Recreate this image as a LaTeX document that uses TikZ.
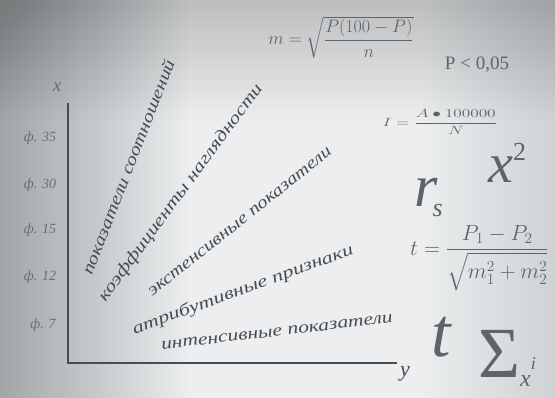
\RequirePackage{fix-cm}
\documentclass[tikz,border=0pt]{standalone}
\usepackage{amsmath}
\usepackage{graphicx}
\usepackage{fontspec}
\setmainfont{Liberation Serif}

\definecolor{bgdark}{RGB}{160,165,168}
\definecolor{bglight}{RGB}{236,238,239}
\definecolor{bgright}{RGB}{206,210,213}
\definecolor{ink}{RGB}{72,77,82}
\definecolor{softink}{RGB}{105,110,114}
\definecolor{formink}{RGB}{95,100,105}

% largeur imposee, hauteur gardee
\newcommand{\fitw}[2]{\resizebox{#1}{\height}{#2}}

\tikzset{
  rowlbl/.style={softink, font=\fontsize{14}{16}\selectfont\itshape},
  slantlbl/.style={ink, font=\fontsize{17}{19}\selectfont\itshape, inner sep=0pt},
  formula/.style={formink, inner sep=0pt},
  axisline/.style={ink, line width=1.6pt}
}

\begin{document}
\begin{tikzpicture}[x=1pt,y=-1pt]

	% Fond
	\useasboundingbox (0,0) rectangle (555,398);
	\shade[left color=bgdark, right color=bglight] (0,0) rectangle (190,398);
	\fill[bglight] (189.5,0) rectangle (420.5,398);
	\shade[left color=bglight, right color=bgright] (420,0) rectangle (555,398);
	\foreach \k in {1,...,24}
		\fill[black, fill opacity=0.008] (0,0) rectangle (555,5*\k);

	% Axes
	\coordinate (O) at (68,363);
	\coordinate (xtop) at (68,103);
	\coordinate (yend) at (397,363);
	\draw[axisline] (xtop) -- (O) -- (yend);
	\node[softink, font=\fontsize{19}{21}\selectfont\itshape] (xlab) at (57,87) {x};
	\node[ink, font=\fontsize{22}{24}\selectfont\itshape] (ylab) at (405,374) {y};

	% Graduations
	\node[rowlbl] (f35) at (40,138) {ф. 35};
	\node[rowlbl] (f30) at (40,185) {ф. 30};
	\node[rowlbl] (f15) at (40,230) {ф. 15};
	\node[rowlbl] (f12) at (40,277) {ф. 12};
	\node[rowlbl] (f7) at (43,325) {ф. 7};

	% Rayons
	\node[slantlbl, rotate=68.7] (soot) at (128,167) {\fitw{229pt}{показатели соотношений}};
	\node[slantlbl, rotate=53.6] (koef) at (181,193) {\fitw{265pt}{коэффициенты наглядности}};
	\node[slantlbl, rotate=38.5] (ext) at (240,222) {\fitw{230pt}{экстенсивные показатели}};
	\node[slantlbl, rotate=20] (attr) at (243,290) {\fitw{234pt}{атрибутивные признаки}};
	\node[slantlbl, rotate=6.7] (int) at (277,332) {\fitw{233pt}{интенсивные показатели}};

	% Formules
	\node[formula, font=\fontsize{18}{20}\selectfont] (merr) at (341,37) {$m=\sqrt{\dfrac{P(100-P)}{n}}$};
	\node[formula, font=\fontsize{19}{21}\selectfont] (plev) at (477,65) {P < 0,05};
	\node[formula, font=\fontsize{12}{14}\selectfont] (ipok) at (440,122) {\fitw{115pt}{$I=\dfrac{A\bullet 100000}{N}$}};
	\node[formula, anchor=base west, font=\fontsize{56}{60}\selectfont\itshape] (chi) at (488,183)
		{x\raisebox{22pt}{\fontsize{26}{28}\selectfont\upshape 2}};
	\node[formula, anchor=base west, font=\fontsize{60}{64}\selectfont\itshape] (rs) at (414,207)
		{r\hspace{-5pt}\raisebox{-10pt}{\fontsize{26}{28}\selectfont s}};
	\node[formula, anchor=west, font=\fontsize{22}{24}\selectfont] (tstud) at (410,258)
		{$t=\dfrac{P_1-P_2}{\sqrt{m_1^2+m_2^2}}$};
	\node[formula, anchor=base west, font=\fontsize{70}{74}\selectfont\itshape] (tbig) at (431,357) {t};
	\node[formula, anchor=base west, font=\fontsize{72}{76}\selectfont] (sig) at (478,378)
		{Σ\raisebox{-9pt}{\fontsize{24}{26}\selectfont\itshape x}\raisebox{9pt}{\fontsize{18}{20}\selectfont\itshape i}};

\end{tikzpicture}
\end{document}
